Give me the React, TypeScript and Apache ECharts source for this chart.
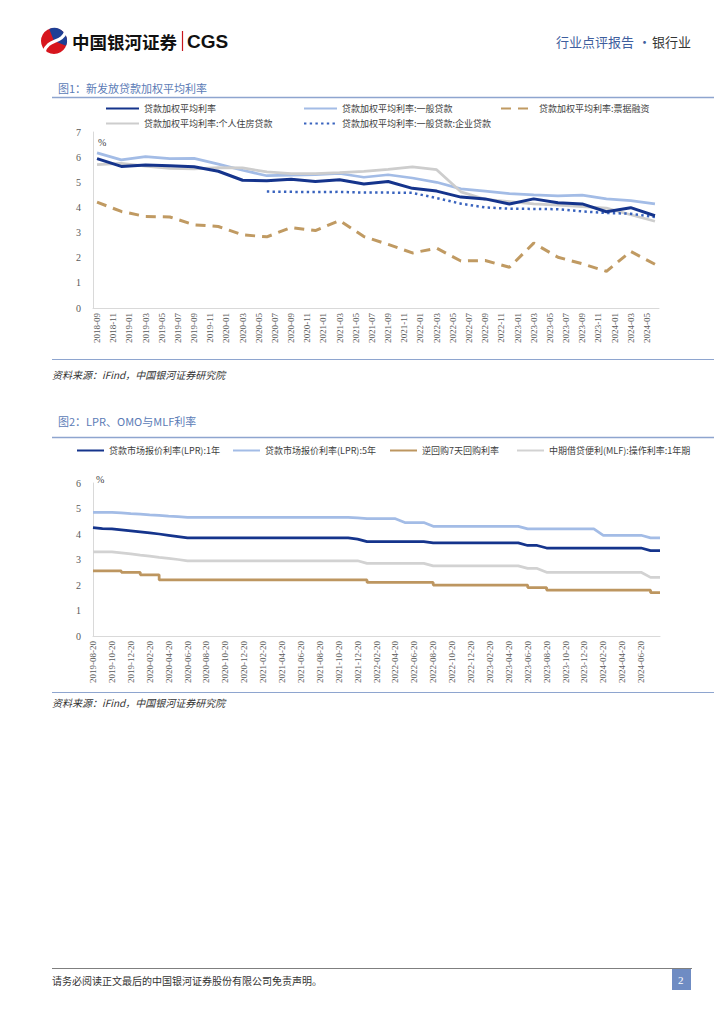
import React, { useEffect, useRef } from "react";
import * as echarts from "echarts";

const FONT_CJK = '"Noto Sans CJK SC", "Noto Sans", sans-serif';
const FONT_NUM = '"Liberation Serif", "Noto Sans CJK SC", serif';

function buildMonths(startYear: number, startMonth: number, count: number, suffix: string): string[] {
  const out: string[] = [];
  let y = startYear;
  let m = startMonth;
  for (let i = 0; i < count; i++) {
    out.push(`${y}-${String(m).padStart(2, "0")}${suffix}`);
    m++;
    if (m > 12) { m = 1; y++; }
  }
  return out;
}

// ---------- Figure 1: quarterly weighted average loan rates ----------
const fig1Categories = buildMonths(2018, 9, 70, ""); // 2018-09 ... 2024-06 (monthly axis)
const fig1Names = [
  "贷款加权平均利率",
  "贷款加权平均利率:一般贷款",
  "贷款加权平均利率:票据融资",
  "贷款加权平均利率:个人住房贷款",
  "贷款加权平均利率:一般贷款:企业贷款",
];
// quarterly values 2018-09, 2018-12, ..., 2024-06
const loanAvg = [5.94, 5.63, 5.69, 5.66, 5.62, 5.44, 5.08, 5.06, 5.12, 5.03, 5.10, 4.93, 5.03, 4.76, 4.65, 4.41, 4.34, 4.14, 4.34, 4.19, 4.14, 3.83, 3.99, 3.67];
const loanGeneral = [6.17, 5.89, 6.02, 5.94, 5.95, 5.72, 5.48, 5.26, 5.28, 5.30, 5.35, 5.20, 5.30, 5.17, 5.00, 4.74, 4.65, 4.55, 4.50, 4.46, 4.49, 4.34, 4.27, 4.14];
const loanBill = [4.21, 3.84, 3.64, 3.62, 3.31, 3.24, 2.91, 2.83, 3.20, 3.08, 3.48, 2.84, 2.53, 2.19, 2.38, 1.87, 1.89, 1.62, 2.58, 2.02, 1.76, 1.46, 2.25, 1.74];
const loanMortgage = [5.70, 5.75, 5.64, 5.55, 5.53, 5.58, 5.57, 5.41, 5.34, 5.34, 5.38, 5.43, 5.51, 5.61, 5.50, 4.62, 4.32, 4.23, 4.14, 4.09, 4.03, 3.97, 3.71, 3.45];
const loanCorporate = [null, null, null, null, null, null, null, 4.63, 4.62, 4.61, 4.62, 4.59, 4.59, 4.58, 4.37, 4.15, 4.00, 3.95, 3.94, 3.93, 3.84, 3.78, 3.75, 3.62];
const fig1YTicks = { min: 0, max: 7, interval: 1 };

// ---------- Figure 2: LPR, OMO, MLF (monthly, 20th) ----------
const fig2Categories = buildMonths(2019, 8, 61, "-20"); // 2019-08-20 ... 2024-08-20
const fig2Names = [
  "贷款市场报价利率(LPR):1年",
  "贷款市场报价利率(LPR):5年",
  "逆回购7天回购利率",
  "中期借贷便利(MLF):操作利率:1年期",
];
const lpr1y = [
  4.25, 4.21, 4.20, 4.16, 4.12, 4.08, 4.04, 4.00, 3.95, 3.90,
  3.85, 3.85, 3.85, 3.85, 3.85, 3.85, 3.85, 3.85, 3.85, 3.85,
  3.85, 3.85, 3.85, 3.85, 3.85, 3.85, 3.85, 3.85, 3.80, 3.70,
  3.70, 3.70, 3.70, 3.70, 3.70, 3.70, 3.65, 3.65, 3.65, 3.65,
  3.65, 3.65, 3.65, 3.65, 3.65, 3.65, 3.55, 3.55, 3.45, 3.45,
  3.45, 3.45, 3.45, 3.45, 3.45, 3.45, 3.45, 3.45, 3.45, 3.35,
  3.35,
];
const lpr5y = [
  4.85, 4.85, 4.85, 4.83, 4.80, 4.78, 4.75, 4.73, 4.70, 4.68,
  4.65, 4.65, 4.65, 4.65, 4.65, 4.65, 4.65, 4.65, 4.65, 4.65,
  4.65, 4.65, 4.65, 4.65, 4.65, 4.65, 4.65, 4.65, 4.63, 4.60,
  4.60, 4.60, 4.60, 4.45, 4.45, 4.45, 4.30, 4.30, 4.30, 4.30,
  4.30, 4.30, 4.30, 4.30, 4.30, 4.30, 4.20, 4.20, 4.20, 4.20,
  4.20, 4.20, 4.20, 4.20, 3.95, 3.95, 3.95, 3.95, 3.95, 3.85,
  3.85,
];
const omo7d = [
  2.55, 2.55, 2.55, 2.50, 2.50, 2.40, 2.40, 2.20, 2.20, 2.20,
  2.20, 2.20, 2.20, 2.20, 2.20, 2.20, 2.20, 2.20, 2.20, 2.20,
  2.20, 2.20, 2.20, 2.20, 2.20, 2.20, 2.20, 2.20, 2.20, 2.10,
  2.10, 2.10, 2.10, 2.10, 2.10, 2.10, 2.00, 2.00, 2.00, 2.00,
  2.00, 2.00, 2.00, 2.00, 2.00, 2.00, 1.90, 1.90, 1.80, 1.80,
  1.80, 1.80, 1.80, 1.80, 1.80, 1.80, 1.80, 1.80, 1.80, 1.70,
  1.70,
];
const mlf1y = [
  3.30, 3.30, 3.30, 3.26, 3.22, 3.17, 3.13, 3.08, 3.04, 3.00,
  2.95, 2.95, 2.95, 2.95, 2.95, 2.95, 2.95, 2.95, 2.95, 2.95,
  2.95, 2.95, 2.95, 2.95, 2.95, 2.95, 2.95, 2.95, 2.95, 2.85,
  2.85, 2.85, 2.85, 2.85, 2.85, 2.85, 2.75, 2.75, 2.75, 2.75,
  2.75, 2.75, 2.75, 2.75, 2.75, 2.75, 2.65, 2.65, 2.50, 2.50,
  2.50, 2.50, 2.50, 2.50, 2.50, 2.50, 2.50, 2.50, 2.50, 2.30,
  2.30,
];
const fig2YTicks = { min: 0, max: 6, interval: 1 };

const C_DARK = "#15348C";
const C_LIGHT = "#A3BCE6";
const C_TAN = "#C09A62";
const C_GRAY = "#CDCDCD";
const C_DOT = "#3963BE";
const AXIS_GRAY = "#D9D9D9";
const LABEL_GRAY = "#595959";
const RULE = "#8EA5CF";

function quarterly(values: (number | null)[]) {
  const out: [number, number][] = [];
  values.forEach((v, k) => {
    if (v !== null) out.push([3 * k, v]);
  });
  return out;
}

function legendItem(name: string, left: number, top: number, itemWidth: number) {
  return {
    data: [name],
    left,
    top,
    itemWidth,
    itemHeight: 10,
    itemGap: 0,
    padding: 0,
    selectedMode: false,
    itemStyle: { color: "rgba(0,0,0,0)", borderColor: "rgba(0,0,0,0)", borderWidth: 0, opacity: 0 },
    textStyle: { fontSize: 9, color: "#404040", fontFamily: FONT_CJK },
  };
}

function text(x: number, y: number, t: string, style: any) {
  return {
    type: "text",
    x,
    y,
    style: { text: t, fontFamily: FONT_CJK, textVerticalAlign: "middle", ...style },
  };
}

function rule(x1: number, y: number, x2: number, color: string, w: number) {
  return { type: "line", shape: { x1, y1: y, x2, y2: y }, style: { stroke: color, lineWidth: w } };
}

export default function App() {
  const ref = useRef<HTMLDivElement>(null);

  useEffect(() => {
    if (!ref.current) return;
    const chart = echarts.init(ref.current, null, { renderer: "svg" });

    const yAxisBase = {
      axisLine: { show: true, lineStyle: { color: AXIS_GRAY, width: 1 } },
      axisTick: { show: false },
      splitLine: { show: false },
      axisLabel: { color: LABEL_GRAY, fontSize: 10, fontFamily: FONT_NUM, margin: 12 },
    };

    const option: any = {
      animation: false,
      backgroundColor: "#ffffff",
      grid: [
        { left: 93, right: 65, top: 132, height: 176, containLabel: false },
        { left: 93, right: 64, top: 483, height: 153, containLabel: false },
      ],
      xAxis: [
        {
          type: "category",
          gridIndex: 0,
          data: fig1Categories,
          boundaryGap: true,
          axisLine: { show: true, lineStyle: { color: AXIS_GRAY, width: 1 } },
          axisTick: { show: false },
          axisLabel: { interval: 1, rotate: 90, fontSize: 9, color: LABEL_GRAY, fontFamily: FONT_NUM, margin: 5 },
        },
        {
          type: "category",
          gridIndex: 1,
          data: fig2Categories,
          boundaryGap: false,
          axisLine: { show: true, lineStyle: { color: AXIS_GRAY, width: 1 } },
          axisTick: { show: false },
          axisLabel: {
            interval: (index: number) => index % 2 === 0 && index <= 58,
            rotate: 90,
            fontSize: 9,
            color: LABEL_GRAY,
            fontFamily: FONT_NUM,
            margin: 5,
          },
        },
      ],
      yAxis: [
        { type: "value", gridIndex: 0, ...fig1YTicks, ...yAxisBase },
        { type: "value", gridIndex: 1, ...fig2YTicks, ...yAxisBase },
      ],
      legend: [
        legendItem(fig1Names[0], 105, 104, 33),
        legendItem(fig1Names[1], 303, 104, 33),
        legendItem(fig1Names[2], 500, 104, 33),
        legendItem(fig1Names[3], 105, 119, 33),
        legendItem(fig1Names[4], 303, 119, 33),
        legendItem(fig2Names[0], 76, 446, 27),
        legendItem(fig2Names[1], 232, 446, 27),
        legendItem(fig2Names[2], 389, 446, 27),
        legendItem(fig2Names[3], 516, 446, 27),
      ],
      series: [
        {
          name: fig1Names[0], type: "line", xAxisIndex: 0, yAxisIndex: 0, symbol: "none",
          data: quarterly(loanAvg), lineStyle: { color: C_DARK, width: 3 }, itemStyle: { color: C_DARK }, z: 5,
        },
        {
          name: fig1Names[1], type: "line", xAxisIndex: 0, yAxisIndex: 0, symbol: "none",
          data: quarterly(loanGeneral), lineStyle: { color: C_LIGHT, width: 2.75 }, itemStyle: { color: C_LIGHT }, z: 3,
        },
        {
          name: fig1Names[2], type: "line", xAxisIndex: 0, yAxisIndex: 0, symbol: "none",
          data: quarterly(loanBill), lineStyle: { color: C_TAN, width: 3, type: [10, 7] }, itemStyle: { color: C_TAN }, z: 3,
        },
        {
          name: fig1Names[3], type: "line", xAxisIndex: 0, yAxisIndex: 0, symbol: "none",
          data: quarterly(loanMortgage), lineStyle: { color: C_GRAY, width: 2.75 }, itemStyle: { color: C_GRAY }, z: 4,
        },
        {
          name: fig1Names[4], type: "line", xAxisIndex: 0, yAxisIndex: 0, symbol: "none",
          data: quarterly(loanCorporate), lineStyle: { color: C_DOT, width: 2.5, type: [2.4, 3.3] }, itemStyle: { color: C_DOT }, z: 4,
        },
        {
          name: fig2Names[0], type: "line", xAxisIndex: 1, yAxisIndex: 1, symbol: "none",
          data: lpr1y, lineStyle: { color: C_DARK, width: 2.75 }, itemStyle: { color: C_DARK }, z: 5,
        },
        {
          name: fig2Names[1], type: "line", xAxisIndex: 1, yAxisIndex: 1, symbol: "none",
          data: lpr5y, lineStyle: { color: C_LIGHT, width: 2.75 }, itemStyle: { color: C_LIGHT },
        },
        {
          name: fig2Names[2], type: "line", xAxisIndex: 1, yAxisIndex: 1, symbol: "none", step: "end",
          data: omo7d, lineStyle: { color: "#BD9660", width: 2.75 }, itemStyle: { color: "#BD9660" },
        },
        {
          name: fig2Names[3], type: "line", xAxisIndex: 1, yAxisIndex: 1, symbol: "none",
          data: mlf1y, lineStyle: { color: "#D2D2D2", width: 2.75 }, itemStyle: { color: "#D2D2D2" },
        },
      ],
      graphic: [
        // header logo
        { type: "circle", shape: { cx: 54, cy: 41, r: 13 }, style: { fill: "#D7161E" } },
        { type: "sector", shape: { cx: 54, cy: 41, r: 13, r0: 0, startAngle: -Math.PI * 0.62, endAngle: Math.PI * 0.12 }, style: { fill: "#1E3F95" } },
        {
          type: "bezierCurve",
          shape: { x1: 44, y1: 52, x2: 66, y2: 31, cpx1: 48, cpy1: 38, cpx2: 62, cpy2: 44 },
          style: { stroke: "#ffffff", lineWidth: 3.2, fill: "none" },
        },
        text(72, 41, "中国银河证券", { fontSize: 17.5, fontWeight: "bold", fill: "#111111" }),
        { type: "line", shape: { x1: 182.5, y1: 31, x2: 182.5, y2: 51 }, style: { stroke: "#C8161D", lineWidth: 1.2 } },
        text(187, 41, "CGS", { fontSize: 19, fontWeight: "bold", fill: "#111111", fontFamily: '"Liberation Sans", Arial, sans-serif' }),
        text(556, 41, "行业点评报告", { fontSize: 13, fill: "#3E5E9E" }),
        text(638, 41, "·", { fontSize: 13, fill: "#3E5E9E" }),
        text(652, 41, "银行业", { fontSize: 13, fill: "#333333" }),

        // figure 1 heading
        text(58, 88, "图1：新发放贷款加权平均利率", { fontSize: 11, fill: "#5B7BB6" }),
        rule(52, 97.5, 714, RULE, 1.5),
        text(98, 142, "%", { fontSize: 10, fill: "#404040", fontFamily: FONT_NUM }),
        rule(52, 359.5, 714, RULE, 1.2),
        text(52, 374, "资料来源：iFind，中国银河证券研究院", { fontSize: 10, fill: "#333333", fontStyle: "italic" }),

        // figure 2 heading
        text(58, 421, "图2：LPR、OMO与MLF利率", { fontSize: 11, fill: "#5B7BB6" }),
        rule(52, 437.5, 714, RULE, 1.5),
        text(96, 479, "%", { fontSize: 10, fill: "#404040", fontFamily: FONT_NUM }),
        rule(52, 692.5, 714, RULE, 1.2),
        text(52, 702, "资料来源：iFind，中国银河证券研究院", { fontSize: 10, fill: "#333333", fontStyle: "italic" }),

        // footer
        rule(52, 968.5, 692, "#7F7F7F", 1),
        text(52, 980, "请务必阅读正文最后的中国银河证券股份有限公司免责声明。", { fontSize: 10, fill: "#333333" }),
        { type: "rect", shape: { x: 672, y: 969, width: 19, height: 21 }, style: { fill: "#6F8CC3" } },
        text(678, 980, "2", { fontSize: 11, fill: "#ffffff", fontFamily: FONT_NUM }),
      ],
    };

    chart.setOption(option);
    return () => {
      chart.dispose();
    };
  }, []);

  return (
    <div style={{ position: "absolute", left: 0, top: 0, width: 724, height: 1024, background: "#fff" }}>
      <div ref={ref} style={{ width: 724, height: 1024 }} />
    </div>
  );
}
